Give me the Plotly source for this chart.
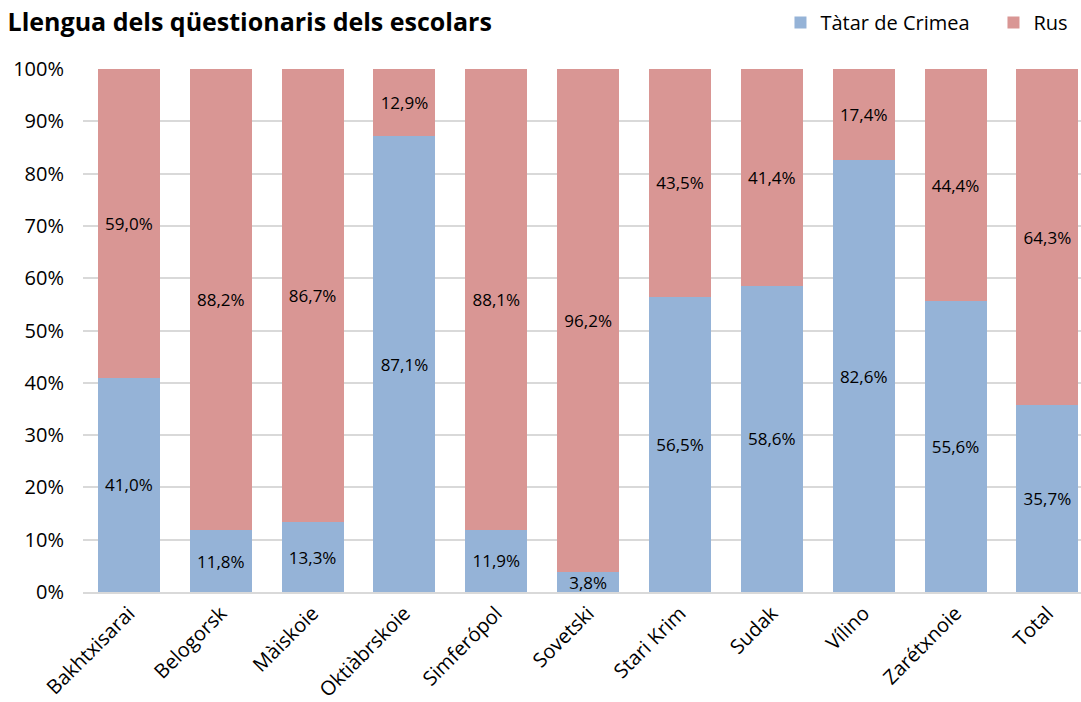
import plotly.graph_objects as go

categories = ["Bakhtxisarai", "Belogorsk", "Màiskoie", "Oktiàbrskoie", "Simferópol",
              "Sovetski", "Stari Krim", "Sudak", "Vílino", "Zarétxnoie", "Total"]
tatar = [41.0, 11.8, 13.3, 87.1, 11.9, 3.8, 56.5, 58.6, 82.6, 55.6, 35.7]
rus = [59.0, 88.2, 86.7, 12.9, 88.1, 96.2, 43.5, 41.4, 17.4, 44.4, 64.3]

FONT = "Open Sans"

fig = go.Figure()
fig.add_trace(go.Bar(x=categories, y=tatar, name="Tàtar de Crimea",
                     marker_color="#95B3D7", marker_line_width=0,
                     texttemplate="%{y:.1f}%", textposition="inside",
                     insidetextanchor="middle",
                     textfont=dict(family=FONT, size=17, color="#000000")))
fig.add_trace(go.Bar(x=categories, y=rus, name="Rus",
                     marker_color="#D99694", marker_line_width=0,
                     texttemplate="%{y:.1f}%", textposition="inside",
                     insidetextanchor="middle",
                     textfont=dict(family=FONT, size=17, color="#000000")))

fig.update_layout(
    width=1081, height=702,
    barmode="stack", bargap=0.325,
    separators=",.",
    uniformtext=dict(minsize=17, mode="show"),
    plot_bgcolor="white", paper_bgcolor="white",
    margin=dict(l=83, r=0, t=69, b=110, autoexpand=False),
    font=dict(family=FONT, size=20, color="#000000"),
    title=dict(text="<b>Llengua dels qüestionaris dels escolars</b>",
               xref="container", x=0.007, xanchor="left", y=0.968, yanchor="middle",
               font=dict(family=FONT, size=25, color="#000000")),
    legend=dict(orientation="h", xref="container", x=0.722, xanchor="left",
                yref="container", y=0.968, yanchor="middle",
                font=dict(family=FONT, size=20), entrywidth=168, entrywidthmode="pixels",
                traceorder="normal", bgcolor="rgba(0,0,0,0)"),
    showlegend=True,
)
fig.update_xaxes(range=[-0.5, 10.366], tickangle=-45, showgrid=False,
                 showline=True, linecolor="#D9D9D9", linewidth=1.5,
                 ticks="", tickfont=dict(family=FONT, size=20))
fig.update_yaxes(range=[0, 100], dtick=10, ticksuffix="%", showgrid=True,
                 gridcolor="#D9D9D9", gridwidth=1.5, zeroline=False,
                 ticks="", ticklabelstandoff=18, tickfont=dict(family=FONT, size=20))

fig.write_html("out.html")
